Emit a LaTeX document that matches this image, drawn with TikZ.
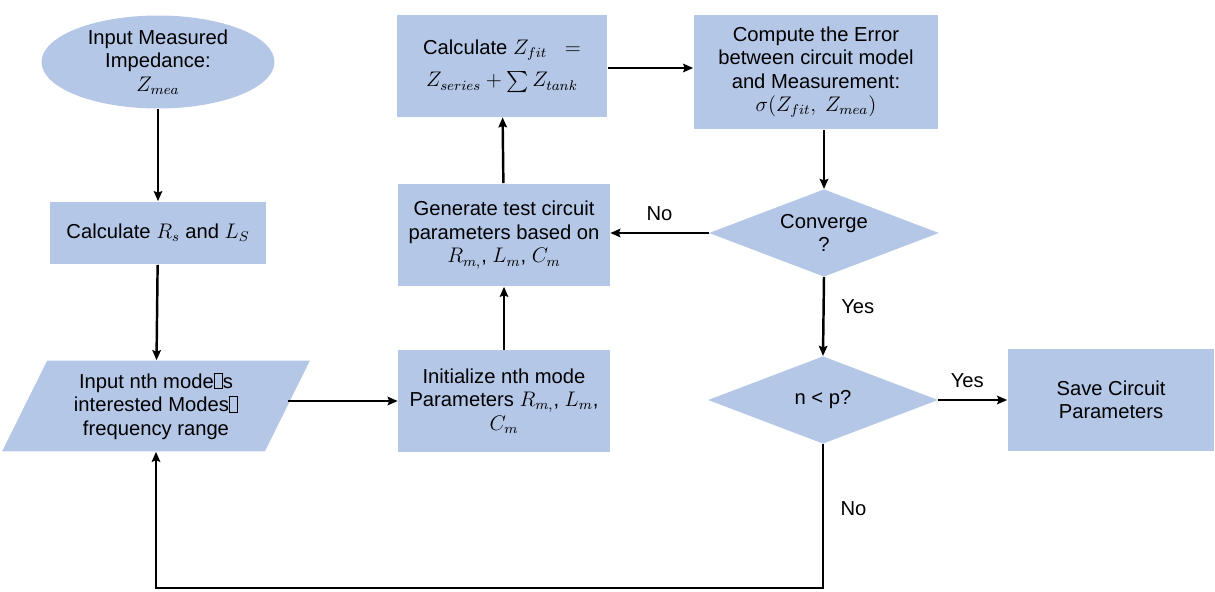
\documentclass[tikz,border=0pt]{standalone}
\usepackage{fontspec}
\setmainfont{Liberation Sans}
\usepackage{amsmath}
\usetikzlibrary{arrows.meta,shapes.geometric}
\definecolor{boxblue}{RGB}{180,199,231}
% empty box that stands in for a missing glyph
\newcommand{\tofu}{{\setlength{\fboxsep}{0pt}\setlength{\fboxrule}{0.4pt}\fbox{\rule{0pt}{0.74em}\hspace{0.38em}}}}

\begin{document}
\begin{tikzpicture}[
  x=0.02cm, y=-0.02cm,
  font=\fontsize{11.5}{13.4}\selectfont,
  box/.style={fill=boxblue, inner sep=0pt, align=center},
  start/.style={box, ellipse, minimum width=4.66cm, minimum height=1.86cm},
  io/.style={box, trapezium, trapezium left angle=56, trapezium right angle=124,
             trapezium stretches body, minimum width=6.16cm, minimum height=1.82cm},
  decide/.style={box, diamond, aspect=2.6, minimum width=4.6cm, minimum height=1.75cm},
  flow/.style={-{Stealth[length=2mm, width=1.7mm, inset=0.3mm]}, line width=1.4pt},
  lbl/.style={font=\fontsize{11.5}{13.4}\selectfont}
]
\useasboundingbox (0,0) rectangle (1215,592);
\node[start] (meas) at (158,62) {Input Measured\\Impedance:\\$Z_{mea}$};
\node[box, minimum width=4.34cm, minimum height=1.26cm] (rs) at (158,233) {Calculate $R_s$ and $L_S$};
\node[io] (modes) at (156,406) {Input nth mode\tofu s\\interested Modes\tofu\\frequency range};
\node[box, minimum width=4.24cm, minimum height=2.04cm] (init) at (504,401) {Initialize nth mode\\Parameters $R_{m,}$, $L_m$,\\$C_m$};
\node[box, minimum width=4.24cm, minimum height=2.06cm] (gen) at (504,235) {Generate test circuit\\parameters based on\\$R_{m,}$, $L_m$, $C_m$};
\node[box, minimum width=4.22cm, minimum height=2.04cm] (zfit) at (502,66) {Calculate $Z_{fit}\;\;=$\\[5pt]$Z_{series} + \sum Z_{tank}$};
\node[box, minimum width=4.9cm, minimum height=2.3cm] (err) at (816,72) {Compute the Error\\between circuit model\\and Measurement:\\$\sigma(Z_{fit},\ Z_{mea})$};
\node[decide] (conv) at (824,233) {Converge\\?};
\node[decide] (cmp) at (823,400) {n < p?};
\node[box, minimum width=4.14cm, minimum height=2.06cm] (save) at (1111,400) {Save Circuit\\Parameters};
% main chain
\draw[flow] (meas) -- (rs);
\draw[flow] (rs) -- (modes);
\draw[flow] (modes.east |- init.west) -- (init.west);
\draw[flow] (init) -- (gen);
\draw[flow] (gen) -- (zfit);
\draw[flow] (zfit.east |- 0,68) -- (err.west |- 0,68);
\draw[flow] (err.south -| conv.north) -- (conv.north);
% decisions
\draw[flow] (conv.west) -- node[lbl, above=3pt]{No} (conv.west -| gen.east);
\draw[flow] (conv.south) -- node[lbl, right=6pt, pos=0.38]{Yes} (cmp.north);
\draw[flow] (cmp.east) -- node[lbl, above=3pt, pos=0.42]{Yes} (save.west);
\draw[flow] (cmp.south) -- node[lbl, right=6pt, pos=0.45]{No} (823,588) -| (modes.south);
\end{tikzpicture}
\end{document}
